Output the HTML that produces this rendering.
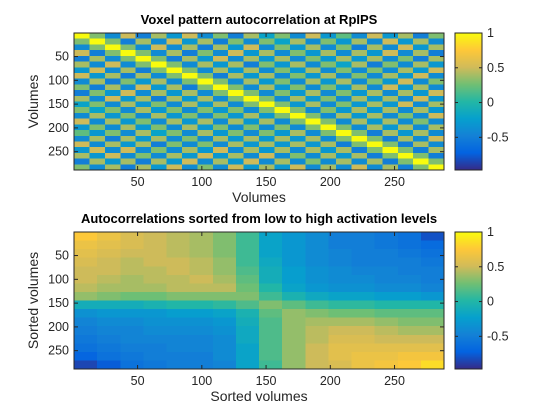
<!DOCTYPE html>
<html><head><meta charset="utf-8"><style>
body{margin:0;background:#fff;}
#wrap{position:relative;width:560px;height:420px;overflow:hidden;font-family:"Liberation Sans",sans-serif;}
</style></head><body>
<div id="wrap">
<svg id="svg" width="560" height="420" style="position:absolute;left:0;top:0"></svg>
</div>
<script>
const topMatrix = [
[1,.3,-.4,.5,-.5,.4,-.3,.5,-.4,.3,-.5,.4,-.2,.3,-.4,.5,-.3,.2,-.4,.5,-.3,.4,-.5,.3],
[.3,1,.3,-.5,.4,-.4,.5,-.3,.4,-.5,.3,-.4,.3,-.2,.4,-.4,.3,-.3,.4,-.4,.5,-.3,.4,-.4],
[-.4,.3,1,.3,-.4,.5,-.4,.4,-.5,.4,-.3,.5,-.4,.3,-.3,.4,-.4,.3,-.5,.4,-.4,.5,-.3,.4],
[.5,-.5,.3,1,.3,-.4,.4,-.5,.3,-.4,.5,-.3,.4,-.4,.3,-.3,.4,-.4,.4,-.3,.5,-.4,.4,-.5],
[-.5,.4,-.4,.3,1,.3,-.5,.4,-.3,.5,-.4,.4,-.3,.4,-.4,.3,-.3,.4,-.3,.4,-.4,.3,-.5,.4],
[.4,-.4,.5,-.4,.3,1,.3,-.4,.4,-.3,.4,-.5,.3,-.3,.4,-.4,.3,-.2,.4,-.5,.3,-.4,.4,-.3],
[-.3,.5,-.4,.4,-.5,.3,1,.3,-.4,.4,-.3,.4,-.4,.3,-.3,.4,-.4,.3,-.4,.3,-.4,.4,-.3,.5],
[.5,-.3,.4,-.5,.4,-.4,.3,1,.3,-.5,.4,-.3,.4,-.4,.3,-.3,.4,-.4,.3,-.4,.4,-.3,.5,-.4],
[-.4,.4,-.5,.3,-.3,.4,-.4,.3,1,.3,-.4,.4,-.3,.3,-.4,.4,-.3,.4,-.4,.3,-.3,.5,-.4,.3],
[.3,-.5,.4,-.4,.5,-.3,.4,-.5,.3,1,.3,-.4,.4,-.3,.3,-.4,.3,-.3,.4,-.4,.5,-.3,.4,-.4],
[-.5,.3,-.3,.5,-.4,.4,-.3,.4,-.4,.3,1,.3,-.4,.3,-.3,.4,-.4,.3,-.3,.4,-.4,.4,-.3,.5],
[.4,-.4,.5,-.3,.4,-.5,.4,-.3,.4,-.4,.3,1,.3,-.4,.4,-.3,.3,-.4,.4,-.3,.4,-.4,.5,-.3],
[-.2,.3,-.4,.4,-.3,.3,-.4,.4,-.3,.4,-.4,.3,1,.3,-.3,.4,-.4,.3,-.3,.4,-.3,.5,-.4,.4],
[.3,-.2,.3,-.4,.4,-.3,.3,-.4,.3,-.3,.3,-.4,.3,1,.3,-.4,.3,-.3,.4,-.3,.4,-.4,.4,-.3],
[-.4,.4,-.3,.3,-.4,.4,-.3,.3,-.4,.3,-.3,.4,-.3,.3,1,.3,-.4,.4,-.3,.4,-.4,.3,-.4,.5],
[.5,-.4,.4,-.3,.3,-.4,.4,-.3,.4,-.4,.4,-.3,.4,-.4,.3,1,.3,-.4,.4,-.3,.4,-.4,.3,-.4],
[-.3,.3,-.4,.4,-.3,.3,-.4,.4,-.3,.3,-.4,.3,-.4,.3,-.4,.3,1,.3,-.4,.4,-.3,.4,-.4,.4],
[.2,-.3,.3,-.4,.4,-.2,.3,-.4,.4,-.3,.3,-.4,.3,-.3,.4,-.4,.3,1,.3,-.5,.4,-.3,.4,-.4],
[-.4,.4,-.5,.4,-.3,.4,-.4,.3,-.4,.4,-.3,.4,-.3,.4,-.3,.4,-.4,.3,1,.3,-.5,.4,-.4,.5],
[.5,-.4,.4,-.3,.4,-.5,.3,-.4,.3,-.4,.4,-.3,.4,-.3,.4,-.3,.4,-.5,.3,1,.3,-.5,.4,-.4],
[-.3,.5,-.4,.5,-.4,.3,-.4,.4,-.3,.5,-.4,.4,-.3,.4,-.4,.4,-.3,.4,-.5,.3,1,.3,-.5,.4],
[.4,-.3,.5,-.4,.3,-.4,.4,-.3,.5,-.3,.4,-.4,.5,-.4,.3,-.4,.4,-.3,.4,-.5,.3,1,.3,-.5],
[-.5,.4,-.3,.4,-.5,.4,-.3,.5,-.4,.4,-.3,.5,-.4,.4,-.4,.3,-.4,.4,-.4,.4,-.5,.3,1,.3],
[.3,-.4,.4,-.5,.4,-.3,.5,-.4,.3,-.4,.5,-.3,.4,-.3,.5,-.4,.4,-.4,.5,-.4,.4,-.5,.3,1]
];
const bottomMatrix = [
[.75,.65,.55,.5,.45,.4,.3,.1,-.2,-.3,-.4,-.5,-.5,-.55,-.6,-.8],
[.65,.6,.55,.5,.45,.4,.3,.1,-.2,-.3,-.4,-.5,-.5,-.55,-.6,-.65],
[.6,.55,.5,.5,.45,.4,.3,.1,-.2,-.3,-.4,-.45,-.5,-.5,-.55,-.6],
[.55,.5,.45,.5,.5,.45,.35,.1,-.15,-.3,-.4,-.45,-.5,-.5,-.5,-.55],
[.5,.5,.45,.45,.5,.45,.35,.15,-.1,-.25,-.35,-.4,-.45,-.45,-.5,-.5],
[.5,.45,.4,.45,.45,.5,.4,.2,-.1,-.25,-.35,-.4,-.4,-.45,-.45,-.5],
[.45,.4,.4,.4,.45,.45,.45,.25,0,-.2,-.3,-.35,-.35,-.4,-.4,-.45],
[.35,.3,.25,.25,.3,.3,.3,.3,.1,-.05,-.15,-.2,-.2,-.25,-.25,-.3],
[-.1,-.1,-.1,-.05,0,0,.05,.15,.3,.2,.1,.05,.05,0,0,0],
[-.35,-.3,-.3,-.3,-.25,-.25,-.2,-.05,.2,.35,.3,.25,.25,.2,.2,.2],
[-.45,-.4,-.4,-.35,-.35,-.35,-.3,-.1,.15,.35,.4,.4,.4,.35,.3,.3],
[-.5,-.45,-.45,-.4,-.4,-.4,-.35,-.15,.15,.35,.45,.5,.5,.45,.4,.4],
[-.55,-.5,-.45,-.45,-.45,-.45,-.4,-.15,.15,.35,.45,.55,.55,.5,.5,.5],
[-.6,-.55,-.5,-.5,-.45,-.45,-.4,-.2,.15,.35,.5,.6,.6,.6,.6,.6],
[-.7,-.6,-.55,-.5,-.5,-.5,-.4,-.2,.15,.35,.5,.6,.65,.65,.7,.7],
[-.85,-.75,-.6,-.55,-.5,-.5,-.45,-.2,.1,.35,.5,.55,.65,.7,.75,.85]
];
const axisTicks = [50,100,150,200,250];
const cbarTicks = [1,0.5,0,-0.5];
const cbarLabels = ["1","0.5","0","-0.5"];
const N = 288, CMIN = -0.97, CMAX = 1;

const stops=[[53,42,135],[3,99,225],[20,129,214],[6,160,205],[35,183,165],[113,191,115],[209,187,89],[254,200,56],[249,251,14]];
function parula(v){let t=(v-CMIN)/(CMAX-CMIN);t=Math.max(0,Math.min(1,t));const f=t*8,i=Math.min(7,Math.floor(f)),r=f-i;const a=stops[i],b=stops[i+1];return `rgb(${Math.round(a[0]+(b[0]-a[0])*r)},${Math.round(a[1]+(b[1]-a[1])*r)},${Math.round(a[2]+(b[2]-a[2])*r)})`;}

const NS="http://www.w3.org/2000/svg";
const svg=document.getElementById('svg');
function el(tag,attrs,parent){const e=document.createElementNS(NS,tag);for(const k in attrs)e.setAttribute(k,attrs[k]);(parent||svg).appendChild(e);return e;}
function txt(s,attrs,parent){const e=el('text',attrs,parent);e.textContent=s;return e;}

function drawPanel(cfg){
  const g=el('g',{});
  
  
  const L=74,R=444,T=cfg.top,B=cfg.top+137;
  const xs=v=>L+(v-0.5)/N*(R-L), ys=v=>T+(v-0.5)/N*(B-T);
  const m=cfg.matrix,n=m.length,step=N/n;
  const cells=el('g',{'shape-rendering':'crispEdges'},g);
  
  
  for(let i=0;i<n;i++)for(let j=0;j<n;j++){
    const x0=xs(0.5+j*step),x1=xs(0.5+(j+1)*step),y0=ys(0.5+i*step),y1=ys(0.5+(i+1)*step);
    const r=el('rect',{x:x0,y:y0,width:x1-x0+0.5,height:y1-y0+0.5,fill:parula(m[i][j])},cells);
    
    
  }
  el('rect',{x:L,y:T,width:R-L,height:B-T,fill:'none',stroke:'#262626','stroke-width':1},g);
  axisTicks.forEach(t=>{
    const x=xs(t),y=ys(t);
    el('line',{x1:x,x2:x,y1:B,y2:B-4,stroke:'#262626'},g);
    el('line',{x1:x,x2:x,y1:T,y2:T+4,stroke:'#262626'},g);
    el('line',{x1:L,x2:L+4,y1:y,y2:y,stroke:'#262626'},g);
    el('line',{x1:R,x2:R-4,y1:y,y2:y,stroke:'#262626'},g);
    const xl=txt(String(t),{x:x,y:B+16,'text-anchor':'middle','font-size':12.5,fill:'#262626'},g);
    
    
    const yl=txt(String(t),{x:L-5,y:y+4,'text-anchor':'end','font-size':12.5,fill:'#262626'},g);
    
    
  });
  const title=txt(cfg.title,{x:cfg.titleX,y:T-9,'text-anchor':'middle','font-size':13,'font-weight':'bold',fill:'#000'},g);
  
  
  const xlab=txt(cfg.xlabel,{x:(L+R)/2,y:B+32,'text-anchor':'middle','font-size':14,fill:'#262626'},g);
  
  
  const yl=txt(cfg.ylabel,{x:0,y:0,'text-anchor':'middle','font-size':14,fill:'#262626',transform:`translate(38,${(T+B)/2}) rotate(-90)`},g);
  
  
  const cb=el('g',{},g);
  
  
  const CL=455,CR=482;
  const cy=v=>B-(v-CMIN)/(CMAX-CMIN)*(B-T);
  for(let k=0;k<137;k++){
    const v=CMAX-(k+0.5)/137*(CMAX-CMIN);
    el('rect',{x:CL,y:T+k,width:CR-CL,height:1.2,fill:parula(v)},cb);
  }
  el('rect',{x:CL,y:T,width:CR-CL,height:B-T,fill:'none',stroke:'#262626'},cb);
  cbarTicks.forEach((t,i)=>{
    const y=cy(t);
    el('line',{x1:CL,x2:CL+3,y1:y,y2:y,stroke:'#262626'},cb);
    el('line',{x1:CR,x2:CR-3,y1:y,y2:y,stroke:'#262626'},cb);
    const l=txt(cbarLabels[i],{x:CR+5,y:y+4,'font-size':12.5,fill:'#262626'},cb);
    
    
  });
}
drawPanel({name:'autocorrelation-heatmap',matrix:topMatrix,top:33,title:'Voxel pattern autocorrelation at RpIPS',titleX:259,xlabel:'Volumes',ylabel:'Volumes'});
drawPanel({name:'sorted-heatmap',matrix:bottomMatrix,top:232,title:'Autocorrelations sorted from low to high activation levels',titleX:259,xlabel:'Sorted volumes',ylabel:'Sorted volumes'});
</script>
</body></html>
